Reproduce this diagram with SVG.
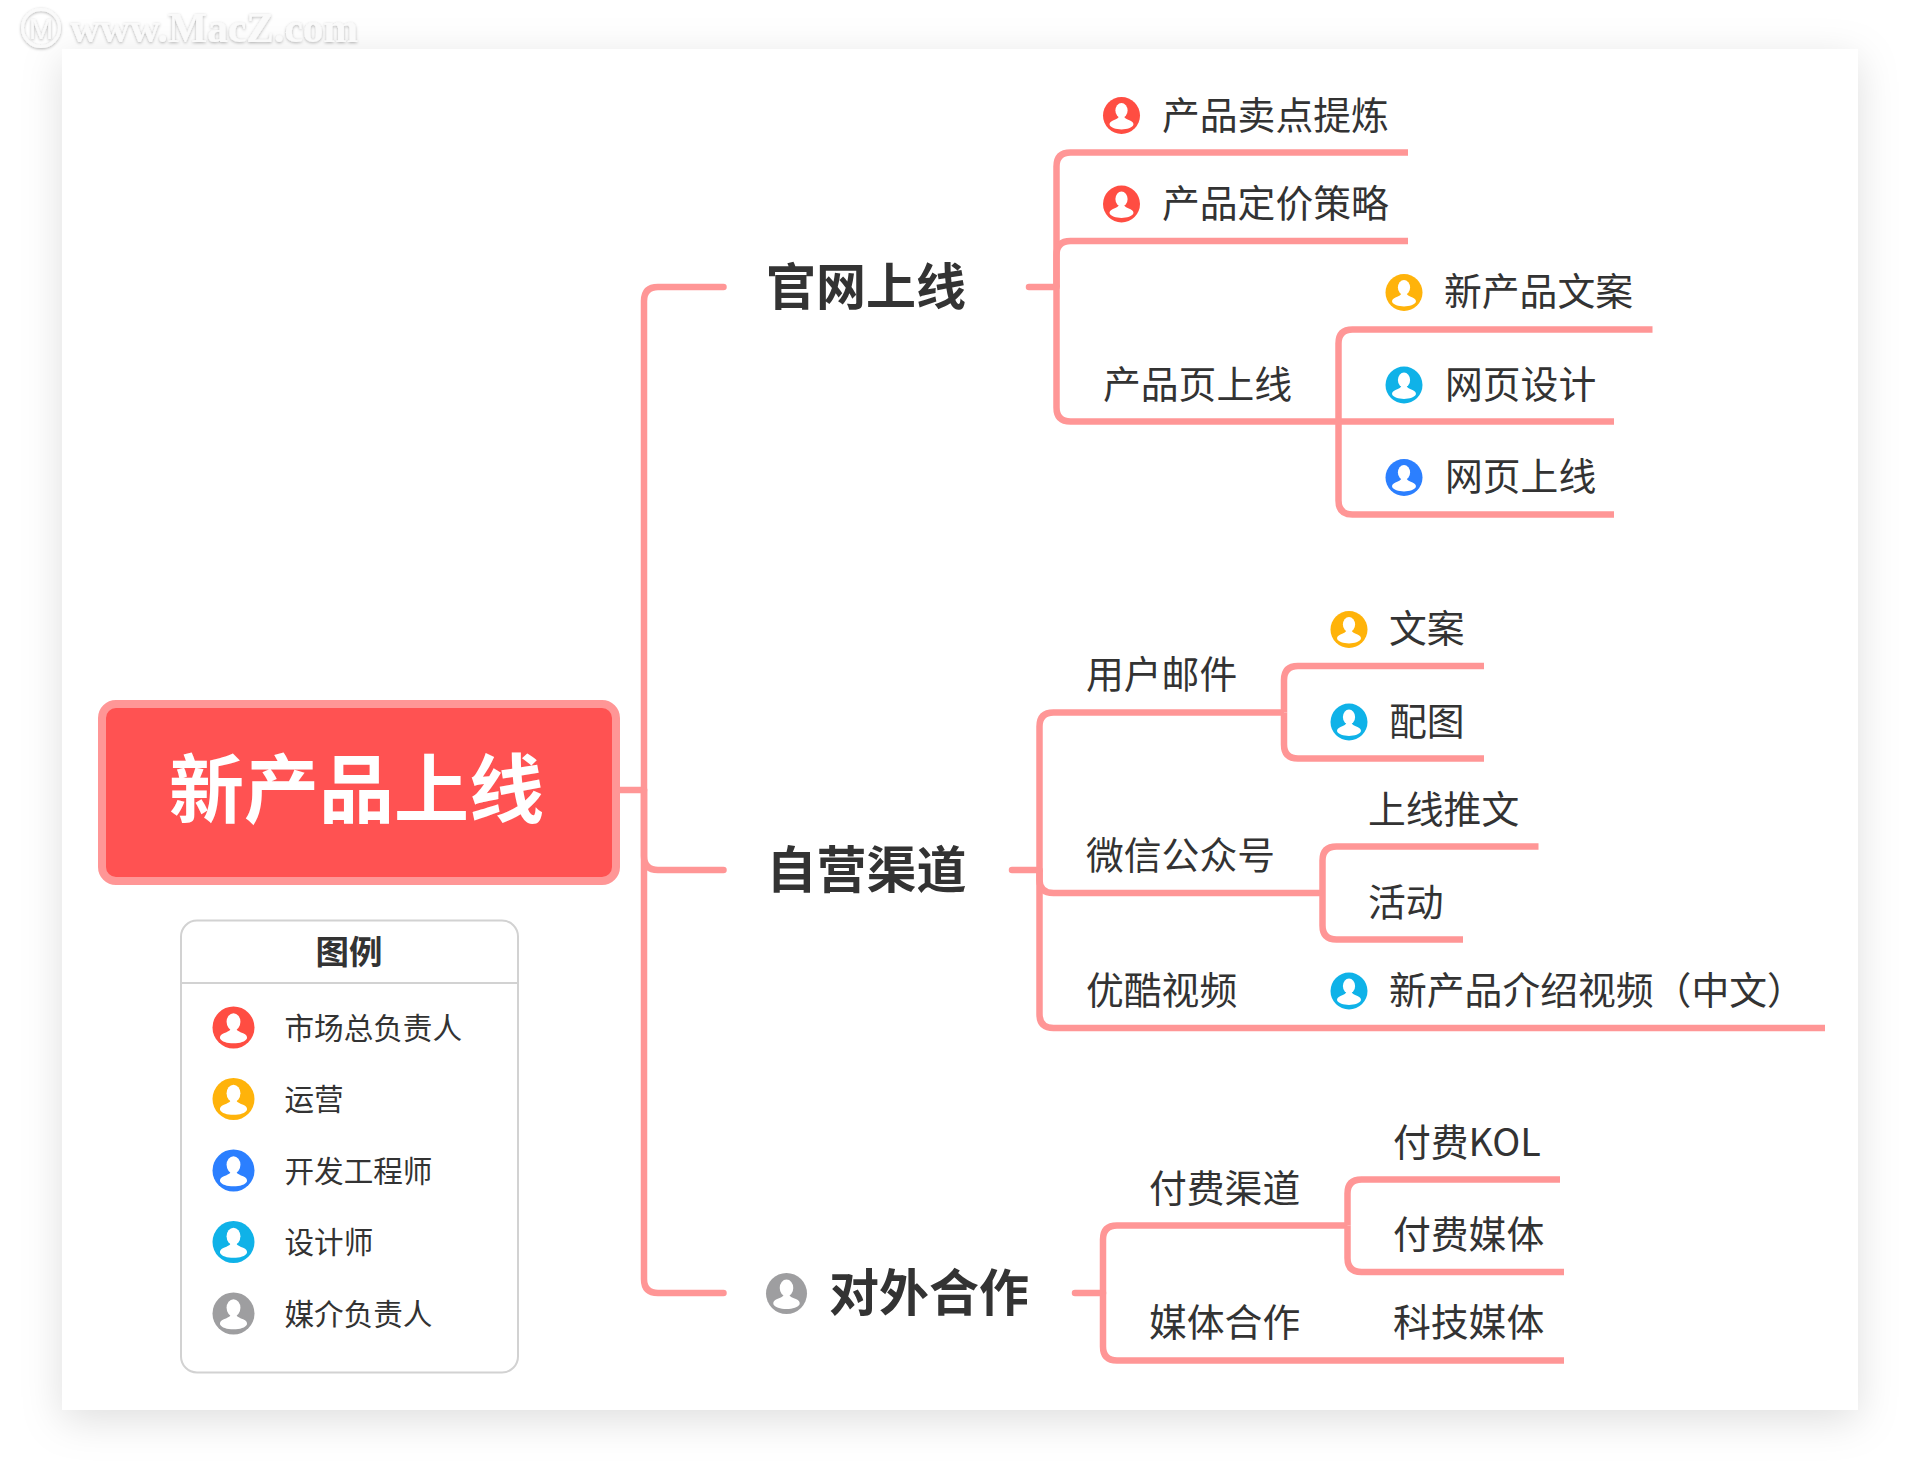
<svg xmlns="http://www.w3.org/2000/svg" width="1920" height="1484" viewBox="0 0 1920 1484">
<style>
text{font-family:"Noto Sans CJK SC","Noto Sans",sans-serif;fill:#333}
.t{font-size:37.8px}
.h{font-size:50px;font-weight:700}
.l{font-size:29.6px}
.c{fill:none;stroke:#FF9696;stroke-width:6.500;stroke-linecap:butt}
.s{fill:none;stroke:#FF9696;stroke-width:6.500;stroke-linecap:round}
.wm{font-family:"Liberation Serif",serif;font-size:41.500px;font-weight:700;fill:#fafafa}
</style>
<defs>
<filter id="paperShadow" x="-10%" y="-10%" width="120%" height="120%"><feDropShadow dx="0" dy="10" stdDeviation="20" flood-color="#000" flood-opacity="0.13"/></filter>
<filter id="wmShadow" x="-10%" y="-30%" width="120%" height="160%"><feDropShadow dx="0" dy="1" stdDeviation="1.500" flood-color="#000" flood-opacity="0.3"/></filter>
<g id="person">
<ellipse cx="0" cy="-0.27" rx="0.33" ry="0.41" fill="#fff"/>
<path d="M-0.13 0.02C-0.13 0.14-0.28 0.2-0.46 0.27C-0.6 0.33-0.67 0.42-0.64 0.52C-0.58 0.67-0.3 0.75 0 0.75C0.3 0.75 0.58 0.67 0.64 0.52C0.67 0.42 0.6 0.33 0.46 0.27C0.28 0.2 0.13 0.14 0.13 0.02Z" fill="#fff"/>
</g>
</defs>
<rect width="1920" height="1484" fill="#fff"/>
<rect id="paper" x="62" y="49" width="1796" height="1361" fill="#fff" filter="url(#paperShadow)"/>
<g id="watermark" filter="url(#wmShadow)">
<ellipse cx="41" cy="28" rx="18.500" ry="18.500" fill="none" stroke="#fafafa" stroke-width="3"/>
<text x="41" y="39" text-anchor="middle" style="font-family:'Liberation Sans',sans-serif;font-size:29px;fill:#fafafa">M</text>
<text class="wm" x="70" y="42">www.MacZ.com</text>
</g>
<g id="connectors">
<path class="c" d="M620 790H644"/>
<path class="s" d="M723.500 287H658Q644 287 644 301V790"/>
<path class="s" d="M723.500 870H658Q644 870 644 856V790"/>
<path class="s" d="M723.500 1293H658Q644 1293 644 1279V790"/>
<path class="s" d="M1029 287H1056.500"/>
<path class="c" d="M1408 152.500H1070.500Q1056.500 152.500 1056.500 166.500V287"/>
<path class="c" d="M1408 241H1070.500Q1056.500 241 1056.500 255V287"/>
<path class="c" d="M1614 421.500H1070.500Q1056.500 421.500 1056.500 407.500V287"/>
<path class="c" d="M1652.500 329.500H1352.500Q1338.500 329.500 1338.500 343.500V421.500"/>
<path class="c" d="M1614 514.500H1352.500Q1338.500 514.500 1338.500 500.500V421.500"/>
<path class="s" d="M1012 870H1039.500"/>
<path class="c" d="M1284 712.500H1053.500Q1039.500 712.500 1039.500 726.500V870"/>
<path class="c" d="M1322.500 893H1053.500Q1039.500 893 1039.500 880V870"/>
<path class="c" d="M1825 1028H1053.500Q1039.500 1028 1039.500 1014V870"/>
<path class="c" d="M1484 666H1298Q1284 666 1284 680V712.500"/>
<path class="c" d="M1484 758.500H1298Q1284 758.500 1284 744.500V712.500"/>
<path class="c" d="M1538.500 846.500H1336.500Q1322.500 846.500 1322.500 860.500V893"/>
<path class="c" d="M1463 939.500H1336.500Q1322.500 939.500 1322.500 925.500V893"/>
<path class="s" d="M1075 1293H1103"/>
<path class="c" d="M1347.500 1225.500H1117Q1103 1225.500 1103 1239.500V1293"/>
<path class="c" d="M1564 1360.500H1117Q1103 1360.500 1103 1346.500V1293"/>
<path class="c" d="M1560 1179.500H1361.500Q1347.500 1179.500 1347.500 1193.500V1225.500"/>
<path class="c" d="M1564 1272H1361.500Q1347.500 1272 1347.500 1258V1225.500"/>
</g>
<g id="root">
<rect x="102" y="704" width="514" height="177" rx="14" fill="#FF5252" stroke="#FF9696" stroke-width="8"/>
<text x="356.500" y="817" text-anchor="middle" style="font-size:75px;font-weight:700;fill:#fff">新产品上线</text>
</g>
<g id="legend">
<rect x="181" y="920.500" width="337" height="452" rx="16" fill="#fff" stroke="#D2D2D2" stroke-width="2"/>
<path d="M181 983H518" stroke="#D2D2D2" stroke-width="2" fill="none"/>
<text x="349" y="964" text-anchor="middle" style="font-size:33.500px;font-weight:700">图例</text>
<circle cx="233.500" cy="1027.500" r="21" fill="#FF4D42"/><use href="#person" transform="translate(233.500 1027.500) scale(21)"/>
<text class="l" x="284.500" y="1038.500">市场总负责人</text>
<circle cx="233.500" cy="1099" r="21" fill="#FFB30A"/><use href="#person" transform="translate(233.500 1099) scale(21)"/>
<text class="l" x="284.500" y="1110">运营</text>
<circle cx="233.500" cy="1170.500" r="21" fill="#2B7FFF"/><use href="#person" transform="translate(233.500 1170.500) scale(21)"/>
<text class="l" x="284.500" y="1181.500">开发工程师</text>
<circle cx="233.500" cy="1242" r="21" fill="#0FB2E8"/><use href="#person" transform="translate(233.500 1242) scale(21)"/>
<text class="l" x="284.500" y="1253">设计师</text>
<circle cx="233.500" cy="1313.500" r="21" fill="#9E9EA0"/><use href="#person" transform="translate(233.500 1313.500) scale(21)"/>
<text class="l" x="284.500" y="1324.500">媒介负责人</text>
</g>
<g id="n-guanwang"><text class="h" x="766" y="305">官网上线</text></g>
<g id="n-ziying"><text class="h" x="766.500" y="888">自营渠道</text></g>
<g id="n-duiwai">
<circle cx="786.500" cy="1293.500" r="20.500" fill="#9E9EA0"/><use href="#person" transform="translate(786.500 1293.500) scale(20.5)"/>
<text class="h" x="829" y="1310.500">对外合作</text>
</g>
<g id="n1"><circle cx="1121.500" cy="115.500" r="18.500" fill="#FF4D42"/><use href="#person" transform="translate(1121.500 115.500) scale(18.5)"/><text class="t" x="1162" y="129">产品卖点提炼</text></g>
<g id="n2"><circle cx="1121.500" cy="204" r="18.500" fill="#FF4D42"/><use href="#person" transform="translate(1121.500 204) scale(18.5)"/><text class="t" x="1162" y="217">产品定价策略</text></g>
<g id="n3"><text class="t" x="1103" y="397.500">产品页上线</text></g>
<g id="n4"><circle cx="1404" cy="292.500" r="18.500" fill="#FFB30A"/><use href="#person" transform="translate(1404 292.500) scale(18.5)"/><text class="t" x="1444" y="305">新产品文案</text></g>
<g id="n5"><circle cx="1404" cy="385" r="18.500" fill="#0FB2E8"/><use href="#person" transform="translate(1404 385) scale(18.5)"/><text class="t" x="1445" y="397.500">网页设计</text></g>
<g id="n6"><circle cx="1404" cy="477.500" r="18.500" fill="#2B7FFF"/><use href="#person" transform="translate(1404 477.500) scale(18.5)"/><text class="t" x="1445" y="490">网页上线</text></g>
<g id="n7"><text class="t" x="1086" y="687.500">用户邮件</text></g>
<g id="n8"><text class="t" x="1086" y="868.500">微信公众号</text></g>
<g id="n9"><text class="t" x="1086" y="1003.500">优酷视频</text></g>
<g id="n10"><circle cx="1349" cy="629.500" r="18.500" fill="#FFB30A"/><use href="#person" transform="translate(1349 629.500) scale(18.5)"/><text class="t" x="1389" y="641.500">文案</text></g>
<g id="n11"><circle cx="1349" cy="722" r="18.500" fill="#0FB2E8"/><use href="#person" transform="translate(1349 722) scale(18.5)"/><text class="t" x="1389" y="734.500">配图</text></g>
<g id="n12"><text class="t" x="1368" y="823">上线推文</text></g>
<g id="n13"><text class="t" x="1368" y="916">活动</text></g>
<g id="n14"><circle cx="1349" cy="991" r="18.500" fill="#0FB2E8"/><use href="#person" transform="translate(1349 991) scale(18.5)"/><text class="t" x="1389" y="1003.500">新产品介绍视频（中文）</text></g>
<g id="n15"><text class="t" x="1149" y="1201.500">付费渠道</text></g>
<g id="n16"><text class="t" x="1149" y="1336">媒体合作</text></g>
<g id="n17"><text class="t" x="1393" y="1155.500">付费KOL</text></g>
<g id="n18"><text class="t" x="1393" y="1247.500">付费媒体</text></g>
<g id="n19"><text class="t" x="1393" y="1336">科技媒体</text></g>
</svg>
